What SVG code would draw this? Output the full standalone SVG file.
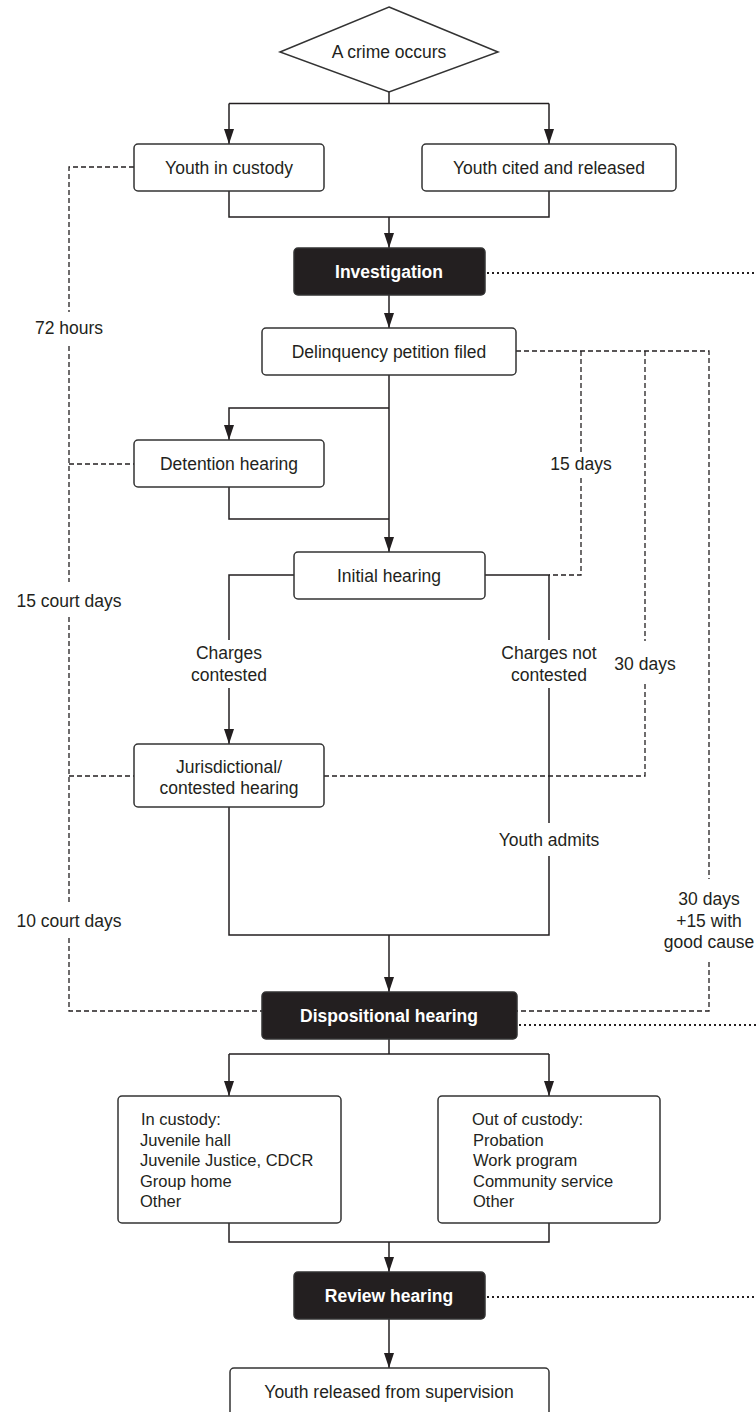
<svg xmlns="http://www.w3.org/2000/svg" width="756" height="1412" viewBox="0 0 756 1412">
<defs>
<marker id="arr" markerUnits="userSpaceOnUse" markerWidth="15" markerHeight="10" refX="15" refY="5" orient="auto" viewBox="0 0 15 10">
<path d="M0,0 L15,5 L0,10 Z" fill="#231f20"/>
</marker>
<style>
.box{fill:#fff;stroke:#333;stroke-width:1.5}
.dark{fill:#231f20;stroke:#333;stroke-width:1.5}
.t{font-family:"Liberation Sans",Arial,sans-serif;font-size:17.5px;fill:#231f20;text-anchor:middle}
.tl{font-family:"Liberation Sans",Arial,sans-serif;font-size:16.5px;fill:#231f20}
.tw{font-family:"Liberation Sans",Arial,sans-serif;font-size:17.5px;fill:#fff;text-anchor:middle;font-weight:bold}
.ln{fill:none;stroke:#231f20;stroke-width:1.5}
.dash{fill:none;stroke:#231f20;stroke-width:1.3;stroke-dasharray:5,3}
.dot{fill:none;stroke:#231f20;stroke-width:2;stroke-dasharray:2,3}
</style>
</defs>
<g id="connectors">
<path class="ln" d="M389,92 V103.5 M229,103.5 H549"/>
<path class="ln" d="M229,103.5 V144" marker-end="url(#arr)"/>
<path class="ln" d="M549,103.5 V144" marker-end="url(#arr)"/>
<path class="ln" d="M229,191 V217 H549 V191"/>
<path class="ln" d="M389,217 V248" marker-end="url(#arr)"/>
<path class="ln" d="M389,295 V328" marker-end="url(#arr)"/>
<path class="ln" d="M389,375 V552" marker-end="url(#arr)"/>
<path class="ln" d="M389,408 H229 V440" marker-end="url(#arr)"/>
<path class="ln" d="M229,487 V519 H389"/>
<path class="ln" d="M294,575 H229 V640"/>
<path class="ln" d="M229,688 V744" marker-end="url(#arr)"/>
<path class="ln" d="M485,575 H549 V640 M549,688 V823"/>
<path class="ln" d="M229,807 V935 H549 V856"/>
<path class="ln" d="M389,935 V992" marker-end="url(#arr)"/>
<path class="ln" d="M389,1039 V1054 M229,1054 H549"/>
<path class="ln" d="M229,1054 V1096" marker-end="url(#arr)"/>
<path class="ln" d="M549,1054 V1096" marker-end="url(#arr)"/>
<path class="ln" d="M229,1223 V1242 H549 V1223"/>
<path class="ln" d="M389,1242 V1272" marker-end="url(#arr)"/>
<path class="ln" d="M389,1319 V1368" marker-end="url(#arr)"/>
<path class="dash" d="M134,167 H69 V312 M69,346 V582 M69,617 V903 M69,938 V1011 H262"/>
<path class="dash" d="M69,464 H134 M69,776 H134"/>
<path class="dash" d="M516,351 H709 V879 M709,962 V1011 H517"/>
<path class="dash" d="M581,351 V452 M581,478 V575 H549"/>
<path class="dash" d="M645,351 V641 M645,684 V776 H324"/>
<path class="dot" d="M487,273 H756 M519,1025 H756 M487,1297 H756"/>
</g>
<g id="crime">
<polygon points="389,7 498,52 389,92 280,52" fill="#fff" stroke="#333" stroke-width="1.5"/>
<text class="t" x="389" y="58">A crime occurs</text>
</g>
<g id="custody">
<rect class="box" x="134" y="144" width="190" height="47" rx="4"/>
<text class="t" x="229" y="174">Youth in custody</text>
</g>
<g id="cited">
<rect class="box" x="422" y="144" width="254" height="47" rx="4"/>
<text class="t" x="549" y="174">Youth cited and released</text>
</g>
<g id="investigation">
<rect class="dark" x="294" y="248" width="191" height="47" rx="4"/>
<text class="tw" x="389" y="278">Investigation</text>
</g>
<g id="petition">
<rect class="box" x="262" y="328" width="254" height="47" rx="4"/>
<text class="t" x="389" y="358">Delinquency petition filed</text>
</g>
<g id="detention">
<rect class="box" x="134" y="440" width="190" height="47" rx="4"/>
<text class="t" x="229" y="470">Detention hearing</text>
</g>
<g id="initial">
<rect class="box" x="294" y="552" width="191" height="47" rx="4"/>
<text class="t" x="389" y="582">Initial hearing</text>
</g>
<g id="jurisdictional">
<rect class="box" x="134" y="744" width="190" height="63" rx="4"/>
<text class="t" x="229" y="773">Jurisdictional/</text>
<text class="t" x="229" y="794">contested hearing</text>
</g>
<g id="dispositional">
<rect class="dark" x="262" y="992" width="255" height="47" rx="4"/>
<text class="tw" x="389" y="1022">Dispositional hearing</text>
</g>
<g id="incustody">
<rect class="box" x="118" y="1096" width="223" height="127" rx="4"/>
<text class="tl" x="141" y="1125">In custody:</text>
<text class="tl" x="140" y="1146">Juvenile hall</text>
<text class="tl" x="140" y="1166">Juvenile Justice, CDCR</text>
<text class="tl" x="140" y="1187">Group home</text>
<text class="tl" x="140" y="1207">Other</text>
</g>
<g id="outcustody">
<rect class="box" x="438" y="1096" width="222" height="127" rx="4"/>
<text class="tl" x="472" y="1125">Out of custody:</text>
<text class="tl" x="473" y="1146">Probation</text>
<text class="tl" x="473" y="1166">Work program</text>
<text class="tl" x="473" y="1187">Community service</text>
<text class="tl" x="473" y="1207">Other</text>
</g>
<g id="review">
<rect class="dark" x="294" y="1272" width="191" height="47" rx="4"/>
<text class="tw" x="389" y="1302">Review hearing</text>
</g>
<g id="released">
<rect class="box" x="230" y="1368" width="319" height="52" rx="4"/>
<text class="t" x="389" y="1398">Youth released from supervision</text>
</g>
<g id="labels">
<text class="t" x="69" y="334">72 hours</text>
<text class="t" x="69" y="607">15 court days</text>
<text class="t" x="69" y="927">10 court days</text>
<text class="t" x="581" y="470">15 days</text>
<text class="t" x="645" y="670">30 days</text>
<text class="t" x="709" y="905">30 days</text>
<text class="t" x="709" y="927">+15 with</text>
<text class="t" x="709" y="948">good cause</text>
<text class="t" x="229" y="659">Charges</text>
<text class="t" x="229" y="681">contested</text>
<text class="t" x="549" y="659">Charges not</text>
<text class="t" x="549" y="681">contested</text>
<text class="t" x="549" y="846">Youth admits</text>
</g>
</svg>
